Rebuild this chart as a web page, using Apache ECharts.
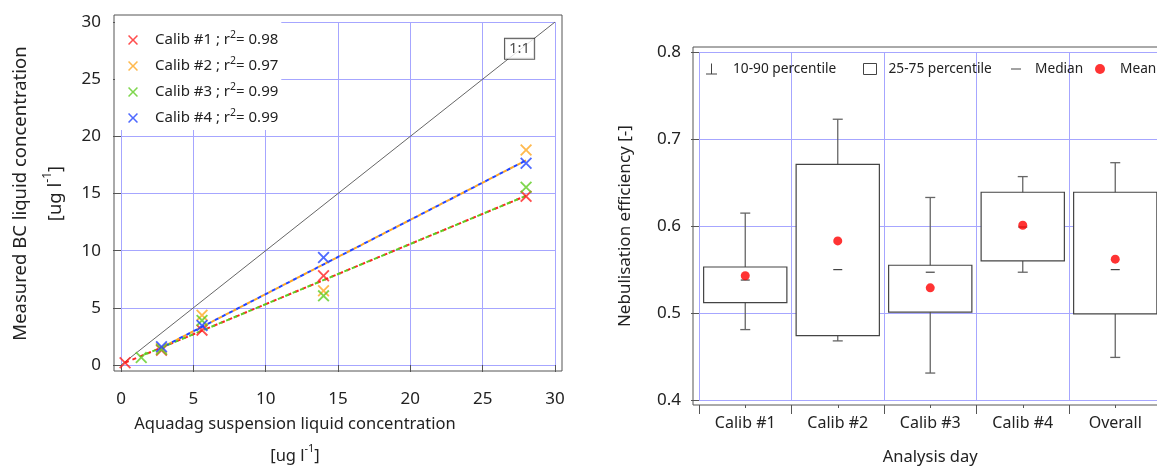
<!DOCTYPE html>
<html>
<head>
<meta charset="utf-8">
<script src="https://cdn.jsdelivr.net/npm/echarts@6.0.0/dist/echarts.min.js"></script>
<style>
html,body{margin:0;padding:0;background:#fff;}
#chart{width:1157px;height:466px;}
</style>
</head>
<body>
<div id="chart"></div>
<script>
// ---------- Left panel data ----------
const calibNames = ['Calib #1', 'Calib #2', 'Calib #3', 'Calib #4'];
const r2Values = ['0.98', '0.97', '0.99', '0.99'];
const calibColors = ['#ff2222', '#ffa722', '#5fcc22', '#2244ff'];
const calib1X = [0.28, 2.8, 5.6, 14, 28];
const calib1Y = [0.2, 1.3, 3.05, 7.8, 14.75];
const calib2X = [2.8, 5.6, 14, 28];
const calib2Y = [1.45, 4.35, 6.5, 18.8];
const calib3X = [1.4, 2.8, 5.6, 14, 28];
const calib3Y = [0.65, 1.35, 3.9, 6.05, 15.55];
const calib4X = [2.8, 5.6, 14, 28];
const calib4Y = [1.6, 3.45, 9.4, 17.65];
const fit1X = [0.28, 28], fit1Y = [0.2, 14.8];
const fit2X = [2.8, 28], fit2Y = [1.52, 17.9];
const fit3X = [1.4, 28], fit3Y = [0.79, 14.8];
const fit4X = [2.8, 28], fit4Y = [1.52, 17.9];
const oneToOneX = [0, 30], oneToOneY = [0, 30];
const oneToOneLabelPos = [27.55, 27.65];
const leftTicks = [0, 5, 10, 15, 20, 25, 30];

// ---------- Right panel data ----------
const categories = ['Calib #1', 'Calib #2', 'Calib #3', 'Calib #4', 'Overall'];
const p10 = [0.481, 0.468, 0.431, 0.547, 0.449];
const p25 = [0.512, 0.474, 0.501, 0.560, 0.499];
const median = [0.538, 0.550, 0.547, 0.599, 0.550];
const p75 = [0.553, 0.671, 0.555, 0.639, 0.639];
const p90 = [0.615, 0.723, 0.633, 0.657, 0.673];
const mean = [0.543, 0.583, 0.529, 0.601, 0.562];

const xyPairs = (xs, ys) => xs.map((x, i) => [x, ys[i]]);
const calibX = [calib1X, calib2X, calib3X, calib4X];
const calibY = [calib1Y, calib2Y, calib3Y, calib4Y];
const fitX = [fit1X, fit2X, fit3X, fit4X];
const fitY = [fit1Y, fit2Y, fit3Y, fit4Y];

const FONT = 'Noto Sans';
const TXT = '#222';
const FRAME = '#555';
const GRIDLINE = {show: true, lineStyle: {color: '#a6a6ff', width: 1}};
const crossPath = 'path://M0,1.3 L1.3,0 L6,4.7 L10.7,0 L12,1.3 L7.3,6 L12,10.7 L10.7,12 L6,7.3 L1.3,12 L0,10.7 L4.7,6 Z';

const chart = echarts.init(document.getElementById('chart'), null, {renderer: 'canvas'});

const series = [];
// 1:1 line
series.push({
  type: 'line', xAxisIndex: 1, yAxisIndex: 1, data: xyPairs(oneToOneX, oneToOneY),
  symbol: 'none', lineStyle: {color: '#666', width: 1}, silent: true, z: 1
});
// fit lines
fitX.forEach((fx, i) => {
  series.push({
    type: 'line', xAxisIndex: 1, yAxisIndex: 1, data: xyPairs(fx, fitY[i]),
    symbol: 'none', silent: true, z: 2,
    lineStyle: {color: calibColors[i], width: 2, type: [4, 4], dashOffset: (i >= 2 ? 4 : 0)}
  });
});
// scatter points
calibNames.forEach((n, i) => {
  series.push({
    name: n, type: 'scatter', xAxisIndex: 1, yAxisIndex: 1,
    data: xyPairs(calibX[i], calibY[i]), symbol: crossPath, symbolSize: 12,
    itemStyle: {color: calibColors[i]}, z: 3
  });
});
// 1:1 label
series.push({
  type: 'scatter', xAxisIndex: 1, yAxisIndex: 1, data: [oneToOneLabelPos],
  symbolSize: 0, silent: true, z: 5,
  label: {show: true, position: 'inside', formatter: '1:1', fontFamily: FONT, fontSize: 15,
    color: TXT, backgroundColor: '#fff', borderColor: '#333', borderWidth: 1, padding: [3, 4, 2, 4]}
});

// Right panel
const capW = 10, medW = 9;
series.push({
  name: '10-90 percentile', type: 'custom', xAxisIndex: 4, yAxisIndex: 3,
  itemStyle: {color: '#444'},
  data: categories.map((c, i) => [i, p10[i], p90[i]]),
  renderItem: function (params, api) {
    const lo = api.coord([api.value(0), api.value(1)]);
    const hi = api.coord([api.value(0), api.value(2)]);
    const st = {stroke: '#666', lineWidth: 1.3};
    return {type: 'group', children: [
      {type: 'line', shape: {x1: lo[0], y1: lo[1], x2: hi[0], y2: hi[1]}, style: st},
      {type: 'line', shape: {x1: lo[0] - capW / 2, y1: lo[1], x2: lo[0] + capW / 2, y2: lo[1]}, style: st},
      {type: 'line', shape: {x1: hi[0] - capW / 2, y1: hi[1], x2: hi[0] + capW / 2, y2: hi[1]}, style: st}
    ]};
  }, z: 2
});
series.push({
  name: '25-75 percentile', type: 'custom', xAxisIndex: 4, yAxisIndex: 3,
  itemStyle: {color: '#fff'},
  data: categories.map((c, i) => [i, p25[i], p75[i]]),
  renderItem: function (params, api) {
    const lo = api.coord([api.value(0), api.value(1)]);
    const hi = api.coord([api.value(0), api.value(2)]);
    const w = api.size([1, 0])[0] * 0.9;
    return {type: 'rect', shape: {x: lo[0] - w / 2, y: hi[1], width: w, height: lo[1] - hi[1]},
      style: {fill: '#fff', stroke: '#444', lineWidth: 1.2}};
  }, z: 3
});
series.push({
  name: 'Median', type: 'custom', xAxisIndex: 4, yAxisIndex: 3,
  itemStyle: {color: '#444'},
  data: categories.map((c, i) => [i, median[i]]),
  renderItem: function (params, api) {
    const p = api.coord([api.value(0), api.value(1)]);
    return {type: 'line', shape: {x1: p[0] - medW / 2, y1: p[1], x2: p[0] + medW / 2, y2: p[1]},
      style: {stroke: '#444', lineWidth: 1.2}};
  }, z: 4
});
series.push({
  name: 'Mean', type: 'scatter', xAxisIndex: 4, yAxisIndex: 3, data: mean,
  symbol: 'circle', symbolSize: 9, itemStyle: {color: '#ff0000'}, z: 5
});

const labelStyle = {fontFamily: FONT, fontSize: 17, color: TXT};
const hiddenAxis = (g) => ({gridIndex: g, type: 'value', show: false, min: 0, max: 1});

const rightLegend = (name, left, icon, w, h, itemStyle, padLeft) => ({
  left: left, top: 61, orient: 'horizontal', padding: 0, selectedMode: false,
  itemWidth: w, itemHeight: h,
  data: [{name: name, icon: icon, itemStyle: itemStyle}],
  textStyle: {fontFamily: FONT, fontSize: 13.7, color: TXT, lineHeight: 16, padding: [0, 0, 0, padLeft]}
});

const option = {
  animation: false,
  backgroundColor: '#fff',
  grid: [
    {left: 114, top: 15, width: 448, height: 356, show: true, borderColor: FRAME, borderWidth: 1, outerBoundsMode: 'none'},
    {left: 121, top: 22, width: 434, height: 343, outerBoundsMode: 'none'},
    {left: 693, top: 47, width: 470, height: 358, show: true, borderColor: FRAME, borderWidth: 1, outerBoundsMode: 'none'},
    {left: 699, top: 52.3, width: 462.5, height: 347.7, outerBoundsMode: 'none'}
  ],
  xAxis: [
    hiddenAxis(0),
    {gridIndex: 1, type: 'value', min: leftTicks[0], max: leftTicks[leftTicks.length - 1], interval: 5,
      offset: 6, axisLine: {show: false}, axisTick: {show: true, length: 7, lineStyle: {color: FRAME}},
      axisLabel: Object.assign({margin: 20}, labelStyle), splitLine: GRIDLINE,
      name: 'Aquadag suspension liquid concentration\n[ug l{sup|-1}]', nameLocation: 'middle', nameGap: 37,
      nameMoveOverlap: false,
      nameTextStyle: {fontFamily: FONT, fontSize: 16.5, color: TXT, lineHeight: 32, padding: [0, 86, 0, 0],
        rich: {sup: {fontFamily: FONT, fontSize: 11, lineHeight: 11, padding: [0, 0, 14, 0], color: TXT}}}},
    hiddenAxis(2),
    {gridIndex: 3, type: 'value', min: 0, max: 5, interval: 1, offset: 5,
      axisLine: {show: false}, axisTick: {show: true, length: 9, lineStyle: {color: FRAME}},
      axisLabel: {show: false}, splitLine: GRIDLINE},
    {gridIndex: 3, type: 'category', data: categories, position: 'bottom', offset: 5,
      axisLine: {show: false}, axisTick: {show: true, alignWithLabel: true, length: 3, lineStyle: {color: FRAME}},
      axisLabel: Object.assign({margin: 10}, labelStyle, {fontSize: 16}), splitLine: {show: false},
      name: 'Analysis day', nameLocation: 'middle', nameGap: 44, nameMoveOverlap: false,
      nameTextStyle: {fontFamily: FONT, fontSize: 16.5, color: TXT}}
  ],
  yAxis: [
    hiddenAxis(0),
    {gridIndex: 1, type: 'value', min: leftTicks[0], max: leftTicks[leftTicks.length - 1], interval: 5,
      offset: 7, axisLine: {show: false}, axisTick: {show: true, length: 8, lineStyle: {color: FRAME}},
      axisLabel: Object.assign({margin: 13}, labelStyle), splitLine: GRIDLINE,
      name: 'Measured BC liquid concentration\n[ug l{sup|-1}]', nameLocation: 'middle', nameGap: 41,
      nameMoveOverlap: false,
      nameTextStyle: {fontFamily: FONT, fontSize: 18.5, color: TXT, lineHeight: 35,
        rich: {sup: {fontFamily: FONT, fontSize: 12, lineHeight: 12, padding: [0, 0, 15, 0], color: TXT}}}},
    hiddenAxis(2),
    {gridIndex: 3, type: 'value', min: 0.4, max: 0.8, interval: 0.1, offset: 6,
      axisLine: {show: false}, axisTick: {show: true, length: 8, lineStyle: {color: FRAME}},
      axisLabel: Object.assign({margin: 12, formatter: v => v.toFixed(1)}, labelStyle), splitLine: GRIDLINE,
      name: 'Nebulisation efficiency [-]', nameLocation: 'middle', nameGap: 59, nameMoveOverlap: false,
      nameTextStyle: {fontFamily: FONT, fontSize: 17, color: TXT}}
  ],
  legend: [
    {left: 115, top: 16, orient: 'vertical', backgroundColor: '#fff', padding: [14, 3, 2, 13],
      itemGap: 6, itemWidth: 10, itemHeight: 10, selectedMode: false, icon: crossPath,
      data: calibNames,
      formatter: name => name + ' ; r{sup|2}= ' + r2Values[calibNames.indexOf(name)],
      textStyle: {fontFamily: FONT, fontSize: 15, color: TXT, lineHeight: 17, padding: [0, 0, 0, 12],
        rich: {sup: {fontFamily: FONT, fontSize: 10.5, lineHeight: 7, padding: [0, 0, 9, 0], color: TXT}}}},
    rightLegend('10-90 percentile', 706, 'path://M5,0 L6,0 L6,10 L11,10 L11,11 L0,11 L0,10 L5,10 Z', 11, 11, {color: '#444'}, 11),
    rightLegend('25-75 percentile', 863, 'rect', 13, 11, {color: '#fff', borderColor: '#444', borderWidth: 1}, 7),
    rightLegend('Median', 1011, 'path://M0,0 L10,0 L10,1 L0,1 Z', 10, 1, {color: '#444'}, 9),
    rightLegend('Mean', 1095, 'circle', 10, 10, {color: '#ff0000'}, 10)
  ],
  series: series
};
chart.setOption(option);
</script>
</body>
</html>
